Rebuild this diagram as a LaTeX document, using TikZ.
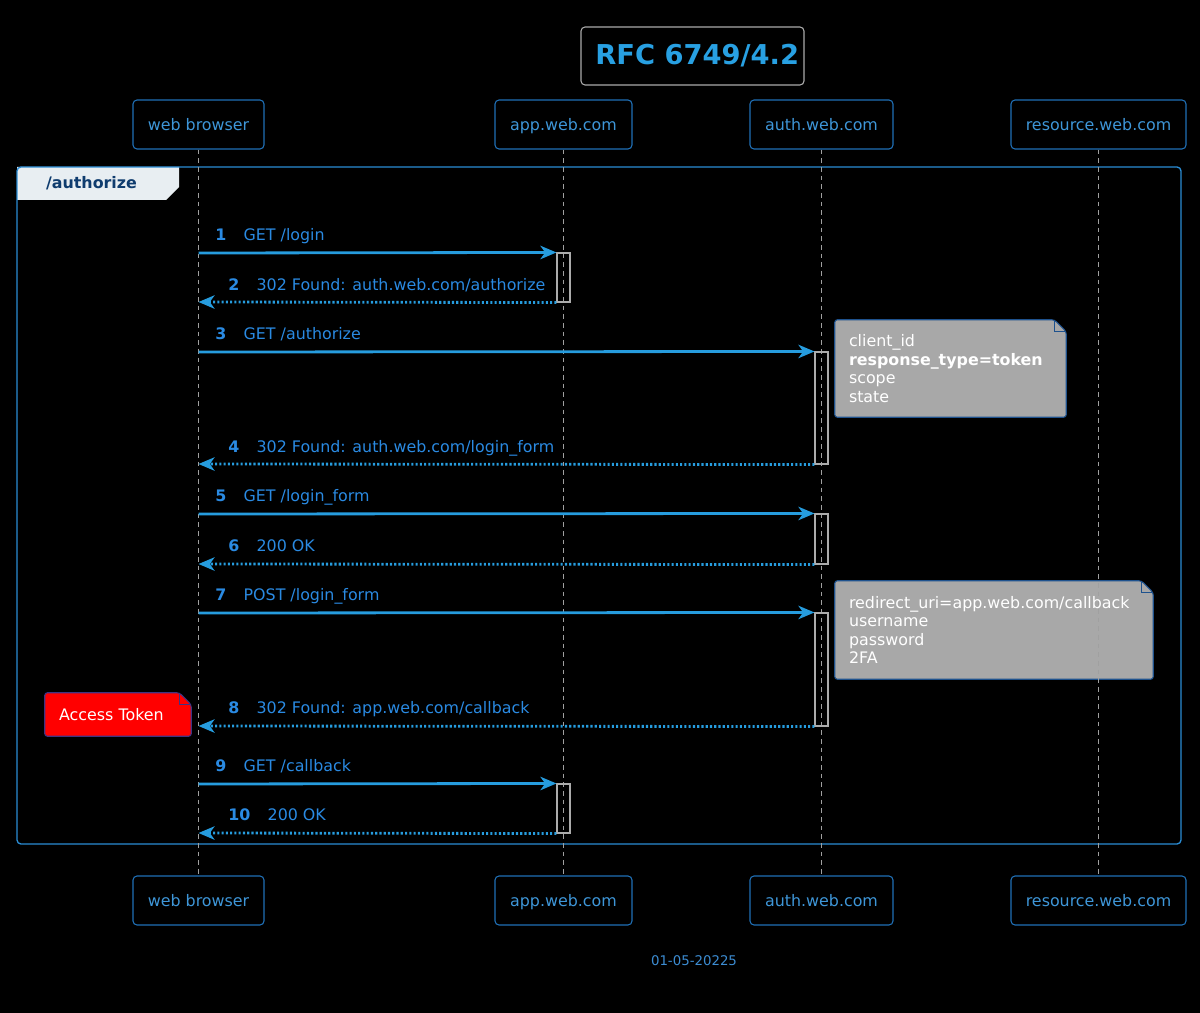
\documentclass[tikz,border=0pt]{standalone}
\usepackage{fontspec}
\setmainfont{DejaVu Sans}
\usepackage{tikz}
\usetikzlibrary{arrows.meta,calc}
\usepackage{xcolor}
\definecolor{msgblue}{RGB}{38,156,222}
\definecolor{lblblue}{RGB}{42,138,226}
\definecolor{partline}{RGB}{32,112,182}
\definecolor{parttext}{RGB}{62,150,216}
\definecolor{titletext}{RGB}{40,160,226}
\definecolor{titleline}{RGB}{170,170,170}
\definecolor{grpline}{RGB}{42,140,212}
\definecolor{tabfill}{RGB}{232,238,242}
\definecolor{tabtext}{RGB}{15,60,110}
\definecolor{notegray}{RGB}{168,168,168}
\definecolor{noteline}{RGB}{30,82,142}
\definecolor{tokenred}{RGB}{255,0,0}
\definecolor{tokenline}{RGB}{62,52,132}
\definecolor{lifegray}{RGB}{160,160,160}
\definecolor{actline}{RGB}{172,172,172}
\definecolor{datetext}{RGB}{60,140,210}
\pgfdeclarelayer{backdrop}
\pgfdeclarelayer{edgelayer}
\pgfsetlayers{backdrop,edgelayer,main}
\newcommand{\msgsize}{\fontsize{11.9pt}{13.8pt}\selectfont}
\newcommand{\seqlbl}[2]{{\bfseries #1}\hspace{13pt}#2}
% note outline with folded corner, drawn behind the text node
\newcommand{\notefold}[3]{%
\begin{pgfonlayer}{edgelayer}
\draw[draw=#3, fill=#2, line width=0.8pt, rounded corners=2pt] (#1.north west) -- ($(#1.north east)+(-12,0)$) -- ($(#1.north east)+(0,12)$) -- (#1.south east) -- (#1.south west) -- cycle;
\draw[draw=#3, line width=0.8pt] ($(#1.north east)+(-12,0)$) -- ($(#1.north east)+(-12,12)$) -- ($(#1.north east)+(0,12)$);
\end{pgfonlayer}}
\tikzset{
part/.style={draw=partline, fill=black, line width=0.8pt, rounded corners=3pt, text=parttext, font=\msgsize, minimum height=36.75pt, inner sep=0pt, text height=11pt, text depth=2.4pt},
act/.style={draw=actline, line width=0.8pt, minimum width=9.75pt, inner sep=0pt},
life/.style={draw=lifegray, line width=0.75pt, dash pattern=on 3.5pt off 3pt},
msg/.style={draw=msgblue, line width=2.1pt, -{Stealth[length=12pt,width=10pt,inset=3.5pt]}},
reply/.style={msg, dash pattern=on 1.6pt off 1.6pt},
lbl/.style={anchor=base west, inner sep=0pt, text=lblblue, font=\msgsize},
notebox/.style={inner xsep=10.5pt, inner ysep=0pt, align=left, text=white, font=\msgsize}
}
\begin{document}
\begin{tikzpicture}[x=0.75pt,y=-0.75pt]
\begin{pgfonlayer}{backdrop}
\fill[black] (0,0) rectangle (1200,1013);
\end{pgfonlayer}
\useasboundingbox (0,0) rectangle (1200,1013);
% title
\node[draw=titleline, fill=black, line width=0.8pt, rounded corners=3pt, text=titletext, font=\fontsize{20.5pt}{24pt}\selectfont\bfseries, minimum width=167.25pt, minimum height=43.5pt, inner sep=0pt] (title) at (692.5,56) {\hspace*{7pt}RFC 6749/4.2};
% group frame
\fill[tabfill] (17,167) -- (179,167) -- (179,187) -- (166,200) -- (17,200) -- cycle;
\draw[grpline, line width=1pt, rounded corners=3pt] (17,167) rectangle (1181,844);
\node[font=\msgsize\bfseries, text=tabtext] (grp) at (91.5,183.5) {/authorize};
% participants
\node[part, minimum width=98.25pt] (wbTop) at (198.5,124.5) {web browser};
\node[part, minimum width=102.75pt] (appTop) at (563.5,124.5) {app.web.com};
\node[part, minimum width=107.25pt] (authTop) at (821.5,124.5) {auth.web.com};
\node[part, minimum width=131.25pt] (resTop) at (1098.5,124.5) {resource.web.com};
\node[part, minimum width=98.25pt] (wbBot) at (198.5,900.5) {web browser};
\node[part, minimum width=102.75pt] (appBot) at (563.5,900.5) {app.web.com};
\node[part, minimum width=107.25pt] (authBot) at (821.5,900.5) {auth.web.com};
\node[part, minimum width=131.25pt] (resBot) at (1098.5,900.5) {resource.web.com};
\path
(wbTop) edge[life] (wbBot)
(appTop) edge[life] (appBot)
(authTop) edge[life] (authBot)
(resTop) edge[life] (resBot);
% activations
\node[act, minimum height=36.75pt] (appAct1) at (563.5,277.5) {};
\node[act, minimum height=84pt] (authAct1) at (821.5,408) {};
\node[act, minimum height=37.5pt] (authAct2) at (821.5,539) {};
\node[act, minimum height=84.75pt] (authAct3) at (821.5,669.5) {};
\node[act, minimum height=36.75pt] (appAct2) at (563.5,808.5) {};
% browser side of each message
\coordinate (wb1) at (198.5,253);
\coordinate (wb2) at (198.5,302);
\coordinate (wb3) at (198.5,352);
\coordinate (wb4) at (198.5,464);
\coordinate (wb5) at (198.5,514);
\coordinate (wb6) at (198.5,564);
\coordinate (wb7) at (198.5,613);
\coordinate (wb8) at (198.5,726);
\coordinate (wb9) at (198.5,784);
\coordinate (wb10) at (198.5,833);
\path
(wb1) edge[msg] (appAct1.north west)
(wb3) edge[msg] (authAct1.north west)
(wb5) edge[msg] (authAct2.north west)
(wb7) edge[msg] (authAct3.north west)
(wb9) edge[msg] (appAct2.north west);
\path
(appAct1.south west) edge[reply] (wb2)
(authAct1.south west) edge[reply] (wb4)
(authAct2.south west) edge[reply] (wb6)
(authAct3.south west) edge[reply] (wb8)
(appAct2.south west) edge[reply] (wb10);
\node[lbl] (l1) at (215,240.5) {\seqlbl{1}{GET /login}};
\node[lbl] (l2) at (228,290) {\seqlbl{2}{302 Found: auth.web.com/authorize}};
\node[lbl] (l3) at (215,339.5) {\seqlbl{3}{GET /authorize}};
\node[lbl] (l4) at (228,452) {\seqlbl{4}{302 Found: auth.web.com/login\_form}};
\node[lbl] (l5) at (215,501.5) {\seqlbl{5}{GET /login\_form}};
\node[lbl] (l6) at (228,551.5) {\seqlbl{6}{200 OK}};
\node[lbl] (l7) at (215,600.5) {\seqlbl{7}{POST /login\_form}};
\node[lbl] (l8) at (228,713.5) {\seqlbl{8}{302 Found: app.web.com/callback}};
\node[lbl] (l9) at (215,771.5) {\seqlbl{9}{GET /callback}};
\node[lbl] (l10) at (228,820.5) {\seqlbl{10}{200 OK}};
% notes
\node[notebox, minimum width=173.25pt, minimum height=72.75pt, text width=152.25pt] (noteAuth) at (950.5,368.5) {client\_id\\\textbf{response\_type=token}\\scope\\state};
\notefold{noteAuth}{notegray}{noteline}
\node[notebox, minimum width=238.5pt, minimum height=73.5pt, text width=217.5pt] (noteLogin) at (994,630) {redirect\_uri=app.web.com/callback\\username\\password\\2FA};
\notefold{noteLogin}{notegray}{noteline}
\node[notebox, minimum width=109.5pt, minimum height=32.25pt, text width=88.5pt] (noteToken) at (118,714.5) {Access Token};
\notefold{noteToken}{tokenred}{tokenline}
\node[font=\fontsize{10pt}{12pt}\selectfont, text=datetext] (date) at (694,961) {01-05-20225};
\end{tikzpicture}
\end{document}
